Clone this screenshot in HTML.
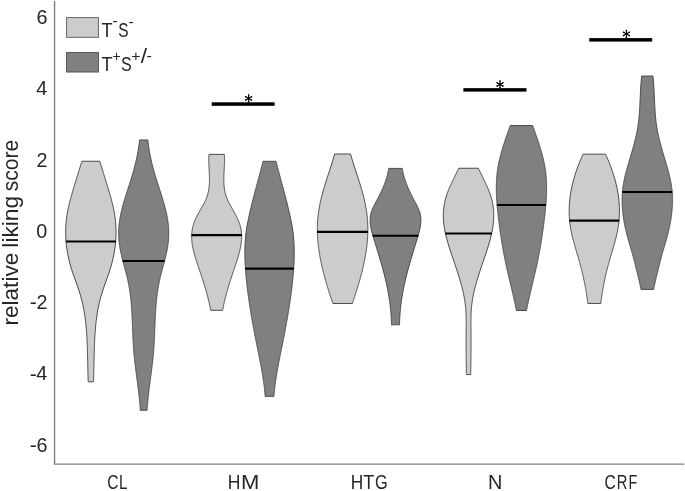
<!DOCTYPE html>
<html><head><meta charset="utf-8"><title>relative liking score</title><style>
html,body{margin:0;padding:0;background:#fff;width:685px;height:491px;overflow:hidden}
svg{display:block;will-change:transform}
text{font-family:"Liberation Sans",sans-serif;fill:#262626}
</style></head><body>
<svg width="685" height="491" viewBox="0 0 685 491">
<rect width="685" height="491" fill="#fff"/>
<line x1="54.55" y1="1" x2="54.55" y2="464.4" stroke="#7a7a7a" stroke-width="1.3"/>
<line x1="54.1" y1="464.15" x2="684.2" y2="464.15" stroke="#808080" stroke-width="1.2"/>
<text x="36.46" y="23.92" font-size="19.8">6</text>
<text x="36.17" y="95.16" font-size="19.8">4</text>
<text x="36.58" y="166.56" font-size="19.8">2</text>
<text x="36.36" y="237.72" font-size="19.8">0</text>
<text font-size="19.8"><tspan x="29.66" y="309.46" textLength="7.02" lengthAdjust="spacingAndGlyphs">-</tspan><tspan x="36.58" y="309.06">2</tspan></text>
<text font-size="19.8"><tspan x="29.66" y="380.61" textLength="7.02" lengthAdjust="spacingAndGlyphs">-</tspan><tspan x="36.17" y="380.21">4</tspan></text>
<text font-size="19.8"><tspan x="29.66" y="452.02" textLength="7.02" lengthAdjust="spacingAndGlyphs">-</tspan><tspan x="36.46" y="451.62">6</tspan></text>
<text y="488.85" font-size="19.8"><tspan x="107.26" textLength="11.23" lengthAdjust="spacingAndGlyphs">C</tspan><tspan x="119.01" textLength="8.39" lengthAdjust="spacingAndGlyphs">L</tspan></text>
<text y="488.85" font-size="19.8"><tspan x="227.76" textLength="12.67" lengthAdjust="spacingAndGlyphs">H</tspan><tspan x="240.99" textLength="18.37" lengthAdjust="spacingAndGlyphs">M</tspan></text>
<text y="488.85" font-size="19.8"><tspan x="350.78" textLength="12.48" lengthAdjust="spacingAndGlyphs">H</tspan><tspan x="363.19" textLength="11.02" lengthAdjust="spacingAndGlyphs">T</tspan><tspan x="375.03" textLength="12.69" lengthAdjust="spacingAndGlyphs">G</tspan></text>
<text y="488.85" font-size="19.8"><tspan x="488.07" textLength="14.35" lengthAdjust="spacingAndGlyphs">N</tspan></text>
<text y="488.85" font-size="19.8"><tspan x="604.61" textLength="11.29" lengthAdjust="spacingAndGlyphs">C</tspan><tspan x="616.74" textLength="10.64" lengthAdjust="spacingAndGlyphs">R</tspan><tspan x="628.43" textLength="8.75" lengthAdjust="spacingAndGlyphs">F</tspan></text>
<text transform="translate(18.05,330.0) rotate(-90)" font-size="21.8"><tspan x="4.40" textLength="72.91" lengthAdjust="spacingAndGlyphs">relative</tspan> <tspan x="82.37" textLength="51.64" lengthAdjust="spacingAndGlyphs">liking</tspan> <tspan x="138.71" textLength="51.52" lengthAdjust="spacingAndGlyphs">score</tspan></text>
<text y="36.65" font-size="20.0"><tspan x="101.44" y="36.65" textLength="11.02" lengthAdjust="spacingAndGlyphs">T</tspan><tspan x="112.51" y="26.45" font-size="14" textLength="5.18" lengthAdjust="spacingAndGlyphs">-</tspan><tspan x="118.30" y="36.65" textLength="10.31" lengthAdjust="spacingAndGlyphs">S</tspan><tspan x="128.49" y="26.60" font-size="14" textLength="5.32" lengthAdjust="spacingAndGlyphs">-</tspan></text>
<text y="70.85" font-size="20.0"><tspan x="101.44" y="70.85" textLength="11.02" lengthAdjust="spacingAndGlyphs">T</tspan><tspan x="112.52" y="60.75" font-size="14" textLength="8.17" lengthAdjust="spacingAndGlyphs">+</tspan><tspan x="121.07" y="70.85" textLength="10.66" lengthAdjust="spacingAndGlyphs">S</tspan><tspan x="131.23" y="60.90" font-size="14" textLength="9.26" lengthAdjust="spacingAndGlyphs">+</tspan><tspan x="140.80" y="63.10" font-size="19.8" textLength="6.30" lengthAdjust="spacingAndGlyphs">/</tspan><tspan x="146.59" y="60.80" font-size="14" textLength="5.32" lengthAdjust="spacingAndGlyphs">-</tspan></text>
<rect x="66.55" y="17.6" width="31.85" height="19.75" fill="#cccccc" stroke="#686868" stroke-width="1"/>
<rect x="66.55" y="52.55" width="31.85" height="19.45" fill="#808080" stroke="#555" stroke-width="1"/>

<path d="M99.80,161.25 L100.11,162.25 L100.42,163.25 L100.73,164.24 L101.04,165.24 L101.35,166.24 L101.66,167.24 L101.97,168.24 L102.28,169.23 L102.59,170.23 L102.89,171.23 L103.20,172.23 L103.51,173.23 L103.82,174.22 L104.13,175.22 L104.43,176.22 L104.74,177.22 L105.05,178.22 L105.35,179.21 L105.66,180.21 L105.96,181.21 L106.27,182.21 L106.57,183.21 L106.87,184.20 L107.17,185.20 L107.48,186.20 L107.78,187.20 L108.07,188.20 L108.37,189.19 L108.67,190.19 L108.97,191.19 L109.26,192.19 L109.55,193.18 L109.84,194.18 L110.13,195.18 L110.41,196.18 L110.69,197.18 L110.97,198.17 L111.24,199.17 L111.51,200.17 L111.77,201.17 L112.03,202.17 L112.28,203.16 L112.53,204.16 L112.77,205.16 L113.00,206.16 L113.23,207.16 L113.44,208.15 L113.65,209.15 L113.86,210.15 L114.05,211.15 L114.24,212.15 L114.41,213.14 L114.58,214.14 L114.74,215.14 L114.88,216.14 L115.02,217.14 L115.15,218.13 L115.27,219.13 L115.39,220.13 L115.49,221.13 L115.58,222.13 L115.67,223.12 L115.74,224.12 L115.81,225.12 L115.87,226.12 L115.92,227.12 L115.96,228.11 L115.99,229.11 L116.01,230.11 L116.03,231.11 L116.03,232.11 L116.03,233.10 L116.02,234.10 L115.99,235.10 L115.96,236.10 L115.93,237.10 L115.88,238.09 L115.82,239.09 L115.76,240.09 L115.68,241.09 L115.60,242.09 L115.51,243.08 L115.41,244.08 L115.30,245.08 L115.19,246.08 L115.06,247.07 L114.93,248.07 L114.79,249.07 L114.64,250.07 L114.48,251.07 L114.31,252.06 L114.14,253.06 L113.95,254.06 L113.76,255.06 L113.56,256.06 L113.35,257.05 L113.14,258.05 L112.91,259.05 L112.68,260.05 L112.44,261.05 L112.19,262.04 L111.93,263.04 L111.66,264.04 L111.39,265.04 L111.10,266.04 L110.81,267.03 L110.52,268.03 L110.21,269.03 L109.89,270.03 L109.57,271.03 L109.24,272.02 L108.90,273.02 L108.56,274.02 L108.21,275.02 L107.86,276.02 L107.51,277.01 L107.15,278.01 L106.79,279.01 L106.43,280.01 L106.07,281.01 L105.71,282.00 L105.35,283.00 L104.99,284.00 L104.63,285.00 L104.28,286.00 L103.93,286.99 L103.59,287.99 L103.26,288.99 L102.93,289.99 L102.60,290.99 L102.29,291.98 L101.97,292.98 L101.67,293.98 L101.37,294.98 L101.08,295.98 L100.80,296.97 L100.52,297.97 L100.26,298.97 L100.00,299.97 L99.75,300.96 L99.50,301.96 L99.27,302.96 L99.04,303.96 L98.82,304.96 L98.61,305.95 L98.40,306.95 L98.20,307.95 L98.01,308.95 L97.82,309.95 L97.65,310.94 L97.47,311.94 L97.31,312.94 L97.15,313.94 L96.99,314.94 L96.85,315.93 L96.70,316.93 L96.57,317.93 L96.44,318.93 L96.31,319.93 L96.19,320.92 L96.07,321.92 L95.96,322.92 L95.86,323.92 L95.75,324.92 L95.66,325.91 L95.56,326.91 L95.47,327.91 L95.39,328.91 L95.31,329.91 L95.23,330.90 L95.15,331.90 L95.08,332.90 L95.01,333.90 L94.95,334.90 L94.89,335.89 L94.83,336.89 L94.77,337.89 L94.72,338.89 L94.67,339.89 L94.62,340.88 L94.58,341.88 L94.53,342.88 L94.49,343.88 L94.46,344.88 L94.42,345.87 L94.38,346.87 L94.35,347.87 L94.32,348.87 L94.29,349.87 L94.26,350.86 L94.24,351.86 L94.21,352.86 L94.19,353.86 L94.16,354.85 L94.14,355.85 L94.12,356.85 L94.10,357.85 L94.07,358.85 L94.05,359.84 L94.03,360.84 L94.01,361.84 L93.99,362.84 L93.97,363.84 L93.95,364.83 L93.93,365.83 L93.91,366.83 L93.89,367.83 L93.87,368.83 L93.85,369.82 L93.82,370.82 L93.80,371.82 L93.77,372.82 L93.74,373.82 L93.72,374.81 L93.69,375.81 L93.65,376.81 L93.62,377.81 L93.59,378.81 L93.55,379.80 L93.51,380.80 L93.47,381.80 L88.23,381.80 L88.19,380.80 L88.15,379.80 L88.11,378.81 L88.08,377.81 L88.05,376.81 L88.01,375.81 L87.98,374.81 L87.96,373.82 L87.93,372.82 L87.90,371.82 L87.88,370.82 L87.85,369.82 L87.83,368.83 L87.81,367.83 L87.79,366.83 L87.77,365.83 L87.75,364.83 L87.73,363.84 L87.71,362.84 L87.69,361.84 L87.67,360.84 L87.65,359.84 L87.63,358.85 L87.60,357.85 L87.58,356.85 L87.56,355.85 L87.54,354.85 L87.51,353.86 L87.49,352.86 L87.46,351.86 L87.44,350.86 L87.41,349.87 L87.38,348.87 L87.35,347.87 L87.32,346.87 L87.28,345.87 L87.24,344.88 L87.21,343.88 L87.17,342.88 L87.12,341.88 L87.08,340.88 L87.03,339.89 L86.98,338.89 L86.93,337.89 L86.87,336.89 L86.81,335.89 L86.75,334.90 L86.69,333.90 L86.62,332.90 L86.55,331.90 L86.47,330.90 L86.39,329.91 L86.31,328.91 L86.23,327.91 L86.14,326.91 L86.04,325.91 L85.95,324.92 L85.84,323.92 L85.74,322.92 L85.63,321.92 L85.51,320.92 L85.39,319.93 L85.26,318.93 L85.13,317.93 L85.00,316.93 L84.85,315.93 L84.71,314.94 L84.55,313.94 L84.39,312.94 L84.23,311.94 L84.05,310.94 L83.88,309.95 L83.69,308.95 L83.50,307.95 L83.30,306.95 L83.09,305.95 L82.88,304.96 L82.66,303.96 L82.43,302.96 L82.20,301.96 L81.95,300.96 L81.70,299.97 L81.44,298.97 L81.18,297.97 L80.90,296.97 L80.62,295.98 L80.33,294.98 L80.03,293.98 L79.73,292.98 L79.41,291.98 L79.10,290.99 L78.77,289.99 L78.44,288.99 L78.11,287.99 L77.77,286.99 L77.42,286.00 L77.07,285.00 L76.71,284.00 L76.35,283.00 L75.99,282.00 L75.63,281.01 L75.27,280.01 L74.91,279.01 L74.55,278.01 L74.19,277.01 L73.84,276.02 L73.49,275.02 L73.14,274.02 L72.80,273.02 L72.46,272.02 L72.13,271.03 L71.81,270.03 L71.49,269.03 L71.18,268.03 L70.89,267.03 L70.60,266.04 L70.31,265.04 L70.04,264.04 L69.77,263.04 L69.51,262.04 L69.26,261.05 L69.02,260.05 L68.79,259.05 L68.56,258.05 L68.35,257.05 L68.14,256.06 L67.94,255.06 L67.75,254.06 L67.56,253.06 L67.39,252.06 L67.22,251.07 L67.06,250.07 L66.91,249.07 L66.77,248.07 L66.64,247.07 L66.51,246.08 L66.40,245.08 L66.29,244.08 L66.19,243.08 L66.10,242.09 L66.02,241.09 L65.94,240.09 L65.88,239.09 L65.82,238.09 L65.77,237.10 L65.74,236.10 L65.71,235.10 L65.68,234.10 L65.67,233.10 L65.67,232.11 L65.67,231.11 L65.69,230.11 L65.71,229.11 L65.74,228.11 L65.78,227.12 L65.83,226.12 L65.89,225.12 L65.96,224.12 L66.03,223.12 L66.12,222.13 L66.21,221.13 L66.31,220.13 L66.43,219.13 L66.55,218.13 L66.68,217.14 L66.82,216.14 L66.96,215.14 L67.12,214.14 L67.29,213.14 L67.46,212.15 L67.65,211.15 L67.84,210.15 L68.05,209.15 L68.26,208.15 L68.47,207.16 L68.70,206.16 L68.93,205.16 L69.17,204.16 L69.42,203.16 L69.67,202.17 L69.93,201.17 L70.19,200.17 L70.46,199.17 L70.73,198.17 L71.01,197.18 L71.29,196.18 L71.57,195.18 L71.86,194.18 L72.15,193.18 L72.44,192.19 L72.73,191.19 L73.03,190.19 L73.33,189.19 L73.63,188.20 L73.92,187.20 L74.22,186.20 L74.53,185.20 L74.83,184.20 L75.13,183.21 L75.43,182.21 L75.74,181.21 L76.04,180.21 L76.35,179.21 L76.65,178.22 L76.96,177.22 L77.27,176.22 L77.57,175.22 L77.88,174.22 L78.19,173.23 L78.50,172.23 L78.81,171.23 L79.11,170.23 L79.42,169.23 L79.73,168.24 L80.04,167.24 L80.35,166.24 L80.66,165.24 L80.97,164.24 L81.28,163.25 L81.59,162.25 L81.90,161.25Z" fill="#cccccc" stroke="#4a4a4a" stroke-width="1.0" stroke-linejoin="round"/>
<line x1="65.85" y1="241.5" x2="115.85" y2="241.5" stroke="#000" stroke-width="2.1"/>
<path d="M147.81,139.95 L147.91,140.95 L148.02,141.95 L148.13,142.94 L148.26,143.94 L148.39,144.94 L148.52,145.94 L148.67,146.93 L148.81,147.93 L148.97,148.93 L149.13,149.93 L149.30,150.92 L149.48,151.92 L149.66,152.92 L149.85,153.92 L150.04,154.91 L150.24,155.91 L150.44,156.91 L150.65,157.91 L150.87,158.90 L151.09,159.90 L151.32,160.90 L151.55,161.90 L151.78,162.89 L152.03,163.89 L152.27,164.89 L152.53,165.89 L152.78,166.89 L153.05,167.88 L153.31,168.88 L153.58,169.88 L153.86,170.88 L154.14,171.87 L154.43,172.87 L154.71,173.87 L155.01,174.87 L155.30,175.86 L155.61,176.86 L155.91,177.86 L156.22,178.86 L156.53,179.85 L156.84,180.85 L157.16,181.85 L157.48,182.85 L157.80,183.84 L158.12,184.84 L158.44,185.84 L158.77,186.84 L159.09,187.83 L159.41,188.83 L159.74,189.83 L160.06,190.83 L160.38,191.83 L160.70,192.82 L161.02,193.82 L161.34,194.82 L161.65,195.82 L161.96,196.81 L162.27,197.81 L162.58,198.81 L162.88,199.81 L163.18,200.80 L163.47,201.80 L163.76,202.80 L164.04,203.80 L164.32,204.79 L164.60,205.79 L164.86,206.79 L165.12,207.79 L165.38,208.78 L165.62,209.78 L165.86,210.78 L166.10,211.78 L166.32,212.77 L166.54,213.77 L166.74,214.77 L166.94,215.77 L167.13,216.77 L167.31,217.76 L167.49,218.76 L167.65,219.76 L167.80,220.76 L167.94,221.75 L168.07,222.75 L168.19,223.75 L168.30,224.75 L168.40,225.74 L168.49,226.74 L168.57,227.74 L168.63,228.74 L168.68,229.73 L168.72,230.73 L168.74,231.73 L168.76,232.73 L168.75,233.72 L168.74,234.72 L168.71,235.72 L168.68,236.72 L168.62,237.71 L168.56,238.71 L168.49,239.71 L168.40,240.71 L168.30,241.71 L168.19,242.70 L168.07,243.70 L167.94,244.70 L167.80,245.70 L167.65,246.69 L167.48,247.69 L167.31,248.69 L167.13,249.69 L166.94,250.68 L166.74,251.68 L166.53,252.68 L166.31,253.68 L166.09,254.67 L165.86,255.67 L165.62,256.67 L165.38,257.67 L165.13,258.66 L164.88,259.66 L164.62,260.66 L164.37,261.66 L164.10,262.65 L163.84,263.65 L163.57,264.65 L163.31,265.65 L163.04,266.65 L162.77,267.64 L162.50,268.64 L162.23,269.64 L161.97,270.64 L161.71,271.63 L161.44,272.63 L161.19,273.63 L160.93,274.63 L160.68,275.62 L160.44,276.62 L160.20,277.62 L159.96,278.62 L159.74,279.61 L159.51,280.61 L159.30,281.61 L159.09,282.61 L158.90,283.60 L158.70,284.60 L158.52,285.60 L158.34,286.60 L158.17,287.60 L158.00,288.59 L157.84,289.59 L157.69,290.59 L157.54,291.59 L157.40,292.58 L157.26,293.58 L157.13,294.58 L157.01,295.58 L156.89,296.57 L156.77,297.57 L156.66,298.57 L156.56,299.57 L156.46,300.56 L156.36,301.56 L156.27,302.56 L156.18,303.56 L156.09,304.55 L156.01,305.55 L155.94,306.55 L155.86,307.55 L155.79,308.54 L155.72,309.54 L155.66,310.54 L155.60,311.54 L155.54,312.54 L155.48,313.53 L155.43,314.53 L155.37,315.53 L155.32,316.53 L155.28,317.52 L155.23,318.52 L155.18,319.52 L155.14,320.52 L155.10,321.51 L155.06,322.51 L155.01,323.51 L154.97,324.51 L154.94,325.50 L154.90,326.50 L154.86,327.50 L154.82,328.50 L154.78,329.49 L154.74,330.49 L154.70,331.49 L154.66,332.49 L154.62,333.48 L154.58,334.48 L154.54,335.48 L154.50,336.48 L154.45,337.48 L154.41,338.47 L154.36,339.47 L154.31,340.47 L154.26,341.47 L154.21,342.46 L154.15,343.46 L154.09,344.46 L154.03,345.46 L153.97,346.45 L153.90,347.45 L153.84,348.45 L153.76,349.45 L153.69,350.44 L153.61,351.44 L153.53,352.44 L153.44,353.44 L153.35,354.43 L153.26,355.43 L153.16,356.43 L153.06,357.43 L152.96,358.42 L152.86,359.42 L152.75,360.42 L152.64,361.42 L152.53,362.42 L152.41,363.41 L152.29,364.41 L152.17,365.41 L152.05,366.41 L151.93,367.40 L151.81,368.40 L151.68,369.40 L151.55,370.40 L151.43,371.39 L151.30,372.39 L151.17,373.39 L151.04,374.39 L150.91,375.38 L150.78,376.38 L150.64,377.38 L150.51,378.38 L150.38,379.37 L150.25,380.37 L150.12,381.37 L149.99,382.37 L149.86,383.36 L149.73,384.36 L149.60,385.36 L149.47,386.36 L149.34,387.36 L149.22,388.35 L149.10,389.35 L148.97,390.35 L148.85,391.35 L148.73,392.34 L148.62,393.34 L148.50,394.34 L148.39,395.34 L148.28,396.33 L148.17,397.33 L148.07,398.33 L147.97,399.33 L147.87,400.32 L147.78,401.32 L147.68,402.32 L147.60,403.32 L147.51,404.31 L147.43,405.31 L147.35,406.31 L147.28,407.31 L147.21,408.30 L147.14,409.30 L147.08,410.30 L140.32,410.30 L140.26,409.30 L140.19,408.30 L140.12,407.31 L140.05,406.31 L139.97,405.31 L139.89,404.31 L139.80,403.32 L139.72,402.32 L139.62,401.32 L139.53,400.32 L139.43,399.33 L139.33,398.33 L139.23,397.33 L139.12,396.33 L139.01,395.34 L138.90,394.34 L138.78,393.34 L138.67,392.34 L138.55,391.35 L138.43,390.35 L138.30,389.35 L138.18,388.35 L138.06,387.36 L137.93,386.36 L137.80,385.36 L137.67,384.36 L137.54,383.36 L137.41,382.37 L137.28,381.37 L137.15,380.37 L137.02,379.37 L136.89,378.38 L136.76,377.38 L136.62,376.38 L136.49,375.38 L136.36,374.39 L136.23,373.39 L136.10,372.39 L135.97,371.39 L135.85,370.40 L135.72,369.40 L135.59,368.40 L135.47,367.40 L135.35,366.41 L135.23,365.41 L135.11,364.41 L134.99,363.41 L134.87,362.42 L134.76,361.42 L134.65,360.42 L134.54,359.42 L134.44,358.42 L134.34,357.43 L134.24,356.43 L134.14,355.43 L134.05,354.43 L133.96,353.44 L133.87,352.44 L133.79,351.44 L133.71,350.44 L133.64,349.45 L133.56,348.45 L133.50,347.45 L133.43,346.45 L133.37,345.46 L133.31,344.46 L133.25,343.46 L133.19,342.46 L133.14,341.47 L133.09,340.47 L133.04,339.47 L132.99,338.47 L132.95,337.48 L132.90,336.48 L132.86,335.48 L132.82,334.48 L132.78,333.48 L132.74,332.49 L132.70,331.49 L132.66,330.49 L132.62,329.49 L132.58,328.50 L132.54,327.50 L132.50,326.50 L132.46,325.50 L132.43,324.51 L132.39,323.51 L132.34,322.51 L132.30,321.51 L132.26,320.52 L132.22,319.52 L132.17,318.52 L132.12,317.52 L132.08,316.53 L132.03,315.53 L131.97,314.53 L131.92,313.53 L131.86,312.54 L131.80,311.54 L131.74,310.54 L131.68,309.54 L131.61,308.54 L131.54,307.55 L131.46,306.55 L131.39,305.55 L131.31,304.55 L131.22,303.56 L131.13,302.56 L131.04,301.56 L130.94,300.56 L130.84,299.57 L130.74,298.57 L130.63,297.57 L130.51,296.57 L130.39,295.58 L130.27,294.58 L130.14,293.58 L130.00,292.58 L129.86,291.59 L129.71,290.59 L129.56,289.59 L129.40,288.59 L129.23,287.60 L129.06,286.60 L128.88,285.60 L128.70,284.60 L128.50,283.60 L128.31,282.61 L128.10,281.61 L127.89,280.61 L127.66,279.61 L127.44,278.62 L127.20,277.62 L126.96,276.62 L126.72,275.62 L126.47,274.63 L126.21,273.63 L125.96,272.63 L125.69,271.63 L125.43,270.64 L125.17,269.64 L124.90,268.64 L124.63,267.64 L124.36,266.65 L124.09,265.65 L123.83,264.65 L123.56,263.65 L123.30,262.65 L123.03,261.66 L122.78,260.66 L122.52,259.66 L122.27,258.66 L122.02,257.67 L121.78,256.67 L121.54,255.67 L121.31,254.67 L121.09,253.68 L120.87,252.68 L120.66,251.68 L120.46,250.68 L120.27,249.69 L120.09,248.69 L119.92,247.69 L119.75,246.69 L119.60,245.70 L119.46,244.70 L119.33,243.70 L119.21,242.70 L119.10,241.71 L119.00,240.71 L118.91,239.71 L118.84,238.71 L118.78,237.71 L118.72,236.72 L118.69,235.72 L118.66,234.72 L118.65,233.72 L118.64,232.73 L118.66,231.73 L118.68,230.73 L118.72,229.73 L118.77,228.74 L118.83,227.74 L118.91,226.74 L119.00,225.74 L119.10,224.75 L119.21,223.75 L119.33,222.75 L119.46,221.75 L119.60,220.76 L119.75,219.76 L119.91,218.76 L120.09,217.76 L120.27,216.77 L120.46,215.77 L120.66,214.77 L120.86,213.77 L121.08,212.77 L121.30,211.78 L121.54,210.78 L121.78,209.78 L122.02,208.78 L122.28,207.79 L122.54,206.79 L122.80,205.79 L123.08,204.79 L123.36,203.80 L123.64,202.80 L123.93,201.80 L124.22,200.80 L124.52,199.81 L124.82,198.81 L125.13,197.81 L125.44,196.81 L125.75,195.82 L126.06,194.82 L126.38,193.82 L126.70,192.82 L127.02,191.83 L127.34,190.83 L127.66,189.83 L127.99,188.83 L128.31,187.83 L128.63,186.84 L128.96,185.84 L129.28,184.84 L129.60,183.84 L129.92,182.85 L130.24,181.85 L130.56,180.85 L130.87,179.85 L131.18,178.86 L131.49,177.86 L131.79,176.86 L132.10,175.86 L132.39,174.87 L132.69,173.87 L132.97,172.87 L133.26,171.87 L133.54,170.88 L133.82,169.88 L134.09,168.88 L134.35,167.88 L134.62,166.89 L134.87,165.89 L135.13,164.89 L135.37,163.89 L135.62,162.89 L135.85,161.90 L136.08,160.90 L136.31,159.90 L136.53,158.90 L136.75,157.91 L136.96,156.91 L137.16,155.91 L137.36,154.91 L137.55,153.92 L137.74,152.92 L137.92,151.92 L138.10,150.92 L138.27,149.93 L138.43,148.93 L138.59,147.93 L138.73,146.93 L138.88,145.94 L139.01,144.94 L139.14,143.94 L139.27,142.94 L139.38,141.95 L139.49,140.95 L139.59,139.95Z" fill="#808080" stroke="#4a4a4a" stroke-width="1.0" stroke-linejoin="round"/>
<line x1="122.66" y1="261.0" x2="164.74" y2="261.0" stroke="#000" stroke-width="2.1"/>
<path d="M224.29,154.35 L224.36,155.35 L224.42,156.35 L224.46,157.35 L224.49,158.35 L224.50,159.35 L224.50,160.35 L224.49,161.35 L224.48,162.35 L224.45,163.35 L224.42,164.35 L224.38,165.35 L224.34,166.35 L224.29,167.35 L224.24,168.35 L224.19,169.35 L224.13,170.34 L224.08,171.34 L224.03,172.34 L223.98,173.34 L223.94,174.34 L223.90,175.34 L223.87,176.34 L223.84,177.34 L223.83,178.34 L223.82,179.34 L223.82,180.34 L223.84,181.34 L223.87,182.34 L223.91,183.34 L223.96,184.34 L224.04,185.34 L224.13,186.34 L224.24,187.34 L224.36,188.34 L224.51,189.34 L224.68,190.34 L224.87,191.34 L225.09,192.34 L225.33,193.34 L225.60,194.34 L225.89,195.34 L226.21,196.34 L226.57,197.34 L226.95,198.34 L227.36,199.34 L227.81,200.34 L228.27,201.33 L228.77,202.33 L229.28,203.33 L229.81,204.33 L230.35,205.33 L230.91,206.33 L231.47,207.33 L232.04,208.33 L232.61,209.33 L233.18,210.33 L233.74,211.33 L234.30,212.33 L234.85,213.33 L235.39,214.33 L235.91,215.33 L236.42,216.33 L236.92,217.33 L237.39,218.33 L237.85,219.33 L238.29,220.33 L238.70,221.33 L239.09,222.33 L239.45,223.33 L239.78,224.33 L240.08,225.33 L240.35,226.33 L240.60,227.33 L240.81,228.33 L241.00,229.33 L241.16,230.33 L241.30,231.33 L241.41,232.32 L241.50,233.32 L241.56,234.32 L241.60,235.32 L241.62,236.32 L241.62,237.32 L241.59,238.32 L241.55,239.32 L241.48,240.32 L241.40,241.32 L241.29,242.32 L241.17,243.32 L241.04,244.32 L240.88,245.32 L240.71,246.32 L240.53,247.32 L240.33,248.32 L240.12,249.32 L239.89,250.32 L239.66,251.32 L239.41,252.32 L239.15,253.32 L238.88,254.32 L238.60,255.32 L238.31,256.32 L238.02,257.32 L237.71,258.32 L237.40,259.32 L237.09,260.32 L236.76,261.32 L236.44,262.32 L236.11,263.32 L235.77,264.31 L235.44,265.31 L235.10,266.31 L234.76,267.31 L234.42,268.31 L234.08,269.31 L233.74,270.31 L233.40,271.31 L233.06,272.31 L232.73,273.31 L232.39,274.31 L232.06,275.31 L231.73,276.31 L231.40,277.31 L231.07,278.31 L230.75,279.31 L230.42,280.31 L230.10,281.31 L229.79,282.31 L229.47,283.31 L229.16,284.31 L228.85,285.31 L228.55,286.31 L228.25,287.31 L227.95,288.31 L227.65,289.31 L227.37,290.31 L227.08,291.31 L226.80,292.31 L226.52,293.31 L226.25,294.31 L225.98,295.30 L225.72,296.30 L225.46,297.30 L225.21,298.30 L224.96,299.30 L224.72,300.30 L224.48,301.30 L224.25,302.30 L224.03,303.30 L223.81,304.30 L223.59,305.30 L223.39,306.30 L223.19,307.30 L223.00,308.30 L222.81,309.30 L222.63,310.30 L210.67,310.30 L210.49,309.30 L210.30,308.30 L210.11,307.30 L209.91,306.30 L209.71,305.30 L209.49,304.30 L209.27,303.30 L209.05,302.30 L208.82,301.30 L208.58,300.30 L208.34,299.30 L208.09,298.30 L207.84,297.30 L207.58,296.30 L207.32,295.30 L207.05,294.31 L206.78,293.31 L206.50,292.31 L206.22,291.31 L205.93,290.31 L205.65,289.31 L205.35,288.31 L205.05,287.31 L204.75,286.31 L204.45,285.31 L204.14,284.31 L203.83,283.31 L203.51,282.31 L203.20,281.31 L202.88,280.31 L202.55,279.31 L202.23,278.31 L201.90,277.31 L201.57,276.31 L201.24,275.31 L200.91,274.31 L200.57,273.31 L200.24,272.31 L199.90,271.31 L199.56,270.31 L199.22,269.31 L198.88,268.31 L198.54,267.31 L198.20,266.31 L197.86,265.31 L197.53,264.31 L197.19,263.32 L196.86,262.32 L196.54,261.32 L196.21,260.32 L195.90,259.32 L195.59,258.32 L195.28,257.32 L194.99,256.32 L194.70,255.32 L194.42,254.32 L194.15,253.32 L193.89,252.32 L193.64,251.32 L193.41,250.32 L193.18,249.32 L192.97,248.32 L192.77,247.32 L192.59,246.32 L192.42,245.32 L192.26,244.32 L192.13,243.32 L192.01,242.32 L191.90,241.32 L191.82,240.32 L191.75,239.32 L191.71,238.32 L191.68,237.32 L191.68,236.32 L191.70,235.32 L191.74,234.32 L191.80,233.32 L191.89,232.32 L192.00,231.33 L192.14,230.33 L192.30,229.33 L192.49,228.33 L192.70,227.33 L192.95,226.33 L193.22,225.33 L193.52,224.33 L193.85,223.33 L194.21,222.33 L194.60,221.33 L195.01,220.33 L195.45,219.33 L195.91,218.33 L196.38,217.33 L196.88,216.33 L197.39,215.33 L197.91,214.33 L198.45,213.33 L199.00,212.33 L199.56,211.33 L200.12,210.33 L200.69,209.33 L201.26,208.33 L201.83,207.33 L202.39,206.33 L202.95,205.33 L203.49,204.33 L204.02,203.33 L204.53,202.33 L205.03,201.33 L205.49,200.34 L205.94,199.34 L206.35,198.34 L206.73,197.34 L207.09,196.34 L207.41,195.34 L207.70,194.34 L207.97,193.34 L208.21,192.34 L208.43,191.34 L208.62,190.34 L208.79,189.34 L208.94,188.34 L209.06,187.34 L209.17,186.34 L209.26,185.34 L209.34,184.34 L209.39,183.34 L209.43,182.34 L209.46,181.34 L209.48,180.34 L209.48,179.34 L209.47,178.34 L209.46,177.34 L209.43,176.34 L209.40,175.34 L209.36,174.34 L209.32,173.34 L209.27,172.34 L209.22,171.34 L209.17,170.34 L209.11,169.35 L209.06,168.35 L209.01,167.35 L208.96,166.35 L208.92,165.35 L208.88,164.35 L208.85,163.35 L208.82,162.35 L208.81,161.35 L208.80,160.35 L208.80,159.35 L208.81,158.35 L208.84,157.35 L208.88,156.35 L208.94,155.35 L209.01,154.35Z" fill="#cccccc" stroke="#4a4a4a" stroke-width="1.0" stroke-linejoin="round"/>
<line x1="191.50" y1="235.1" x2="241.80" y2="235.1" stroke="#000" stroke-width="2.1"/>
<path d="M276.02,161.30 L276.27,162.30 L276.53,163.29 L276.78,164.29 L277.04,165.28 L277.30,166.28 L277.56,167.27 L277.82,168.27 L278.08,169.27 L278.35,170.26 L278.61,171.26 L278.88,172.25 L279.14,173.25 L279.41,174.24 L279.67,175.24 L279.94,176.24 L280.21,177.23 L280.48,178.23 L280.74,179.22 L281.01,180.22 L281.28,181.22 L281.55,182.21 L281.82,183.21 L282.09,184.20 L282.35,185.20 L282.62,186.19 L282.89,187.19 L283.15,188.19 L283.42,189.18 L283.68,190.18 L283.95,191.17 L284.21,192.17 L284.47,193.16 L284.73,194.16 L285.00,195.16 L285.25,196.15 L285.51,197.15 L285.77,198.14 L286.02,199.14 L286.28,200.13 L286.53,201.13 L286.78,202.13 L287.03,203.12 L287.27,204.12 L287.52,205.11 L287.76,206.11 L288.00,207.11 L288.24,208.10 L288.48,209.10 L288.71,210.09 L288.94,211.09 L289.17,212.08 L289.40,213.08 L289.62,214.08 L289.84,215.07 L290.06,216.07 L290.27,217.06 L290.48,218.06 L290.69,219.05 L290.90,220.05 L291.10,221.05 L291.30,222.04 L291.49,223.04 L291.68,224.03 L291.86,225.03 L292.04,226.02 L292.21,227.02 L292.37,228.02 L292.53,229.01 L292.68,230.01 L292.82,231.00 L292.96,232.00 L293.08,232.99 L293.20,233.99 L293.31,234.99 L293.42,235.98 L293.52,236.98 L293.61,237.97 L293.69,238.97 L293.77,239.97 L293.84,240.96 L293.90,241.96 L293.96,242.95 L294.01,243.95 L294.06,244.94 L294.10,245.94 L294.14,246.94 L294.16,247.93 L294.19,248.93 L294.21,249.92 L294.22,250.92 L294.23,251.91 L294.23,252.91 L294.23,253.91 L294.22,254.90 L294.21,255.90 L294.19,256.89 L294.17,257.89 L294.14,258.88 L294.11,259.88 L294.08,260.88 L294.04,261.87 L293.99,262.87 L293.94,263.86 L293.89,264.86 L293.84,265.86 L293.78,266.85 L293.72,267.85 L293.65,268.84 L293.58,269.84 L293.51,270.83 L293.43,271.83 L293.35,272.83 L293.27,273.82 L293.18,274.82 L293.09,275.81 L293.00,276.81 L292.91,277.80 L292.81,278.80 L292.71,279.80 L292.61,280.79 L292.51,281.79 L292.40,282.78 L292.29,283.78 L292.18,284.77 L292.07,285.77 L291.95,286.77 L291.84,287.76 L291.72,288.76 L291.59,289.75 L291.47,290.75 L291.34,291.74 L291.22,292.74 L291.09,293.74 L290.96,294.73 L290.82,295.73 L290.69,296.72 L290.55,297.72 L290.41,298.72 L290.27,299.71 L290.12,300.71 L289.98,301.70 L289.83,302.70 L289.68,303.69 L289.53,304.69 L289.38,305.69 L289.22,306.68 L289.07,307.68 L288.91,308.67 L288.75,309.67 L288.59,310.66 L288.43,311.66 L288.27,312.66 L288.10,313.65 L287.93,314.65 L287.77,315.64 L287.60,316.64 L287.43,317.63 L287.25,318.63 L287.08,319.63 L286.90,320.62 L286.73,321.62 L286.55,322.61 L286.37,323.61 L286.19,324.61 L286.01,325.60 L285.83,326.60 L285.64,327.59 L285.46,328.59 L285.27,329.58 L285.08,330.58 L284.90,331.58 L284.71,332.57 L284.52,333.57 L284.33,334.56 L284.13,335.56 L283.94,336.55 L283.75,337.55 L283.55,338.55 L283.36,339.54 L283.16,340.54 L282.96,341.53 L282.76,342.53 L282.57,343.52 L282.37,344.52 L282.17,345.52 L281.97,346.51 L281.76,347.51 L281.56,348.50 L281.36,349.50 L281.16,350.49 L280.96,351.49 L280.76,352.49 L280.56,353.48 L280.36,354.48 L280.16,355.47 L279.96,356.47 L279.76,357.47 L279.56,358.46 L279.37,359.46 L279.17,360.45 L278.98,361.45 L278.78,362.44 L278.59,363.44 L278.40,364.44 L278.22,365.43 L278.03,366.43 L277.85,367.42 L277.67,368.42 L277.49,369.41 L277.31,370.41 L277.14,371.41 L276.96,372.40 L276.79,373.40 L276.63,374.39 L276.47,375.39 L276.31,376.38 L276.15,377.38 L275.99,378.38 L275.84,379.37 L275.70,380.37 L275.55,381.36 L275.42,382.36 L275.28,383.36 L275.15,384.35 L275.02,385.35 L274.90,386.34 L274.78,387.34 L274.67,388.33 L274.56,389.33 L274.45,390.33 L274.35,391.32 L274.26,392.32 L274.17,393.31 L274.09,394.31 L274.01,395.30 L273.93,396.30 L265.17,396.30 L265.09,395.30 L265.01,394.31 L264.93,393.31 L264.84,392.32 L264.75,391.32 L264.65,390.33 L264.54,389.33 L264.43,388.33 L264.32,387.34 L264.20,386.34 L264.08,385.35 L263.95,384.35 L263.82,383.36 L263.68,382.36 L263.55,381.36 L263.40,380.37 L263.26,379.37 L263.11,378.38 L262.95,377.38 L262.79,376.38 L262.63,375.39 L262.47,374.39 L262.31,373.40 L262.14,372.40 L261.96,371.41 L261.79,370.41 L261.61,369.41 L261.43,368.42 L261.25,367.42 L261.07,366.43 L260.88,365.43 L260.70,364.44 L260.51,363.44 L260.32,362.44 L260.12,361.45 L259.93,360.45 L259.73,359.46 L259.54,358.46 L259.34,357.47 L259.14,356.47 L258.94,355.47 L258.74,354.48 L258.54,353.48 L258.34,352.49 L258.14,351.49 L257.94,350.49 L257.74,349.50 L257.54,348.50 L257.34,347.51 L257.13,346.51 L256.93,345.52 L256.73,344.52 L256.53,343.52 L256.34,342.53 L256.14,341.53 L255.94,340.54 L255.74,339.54 L255.55,338.55 L255.35,337.55 L255.16,336.55 L254.97,335.56 L254.77,334.56 L254.58,333.57 L254.39,332.57 L254.20,331.58 L254.02,330.58 L253.83,329.58 L253.64,328.59 L253.46,327.59 L253.27,326.60 L253.09,325.60 L252.91,324.61 L252.73,323.61 L252.55,322.61 L252.37,321.62 L252.20,320.62 L252.02,319.63 L251.85,318.63 L251.67,317.63 L251.50,316.64 L251.33,315.64 L251.17,314.65 L251.00,313.65 L250.83,312.66 L250.67,311.66 L250.51,310.66 L250.35,309.67 L250.19,308.67 L250.03,307.68 L249.88,306.68 L249.72,305.69 L249.57,304.69 L249.42,303.69 L249.27,302.70 L249.12,301.70 L248.98,300.71 L248.83,299.71 L248.69,298.72 L248.55,297.72 L248.41,296.72 L248.28,295.73 L248.14,294.73 L248.01,293.74 L247.88,292.74 L247.76,291.74 L247.63,290.75 L247.51,289.75 L247.38,288.76 L247.26,287.76 L247.15,286.77 L247.03,285.77 L246.92,284.77 L246.81,283.78 L246.70,282.78 L246.59,281.79 L246.49,280.79 L246.39,279.80 L246.29,278.80 L246.19,277.80 L246.10,276.81 L246.01,275.81 L245.92,274.82 L245.83,273.82 L245.75,272.83 L245.67,271.83 L245.59,270.83 L245.52,269.84 L245.45,268.84 L245.38,267.85 L245.32,266.85 L245.26,265.86 L245.21,264.86 L245.16,263.86 L245.11,262.87 L245.06,261.87 L245.02,260.88 L244.99,259.88 L244.96,258.88 L244.93,257.89 L244.91,256.89 L244.89,255.90 L244.88,254.90 L244.87,253.91 L244.87,252.91 L244.87,251.91 L244.88,250.92 L244.89,249.92 L244.91,248.93 L244.94,247.93 L244.96,246.94 L245.00,245.94 L245.04,244.94 L245.09,243.95 L245.14,242.95 L245.20,241.96 L245.26,240.96 L245.33,239.97 L245.41,238.97 L245.49,237.97 L245.58,236.98 L245.68,235.98 L245.79,234.99 L245.90,233.99 L246.02,232.99 L246.14,232.00 L246.28,231.00 L246.42,230.01 L246.57,229.01 L246.73,228.02 L246.89,227.02 L247.06,226.02 L247.24,225.03 L247.42,224.03 L247.61,223.04 L247.80,222.04 L248.00,221.05 L248.20,220.05 L248.41,219.05 L248.62,218.06 L248.83,217.06 L249.04,216.07 L249.26,215.07 L249.48,214.08 L249.70,213.08 L249.93,212.08 L250.16,211.09 L250.39,210.09 L250.62,209.10 L250.86,208.10 L251.10,207.11 L251.34,206.11 L251.58,205.11 L251.83,204.12 L252.07,203.12 L252.32,202.13 L252.57,201.13 L252.82,200.13 L253.08,199.14 L253.33,198.14 L253.59,197.15 L253.85,196.15 L254.10,195.16 L254.37,194.16 L254.63,193.16 L254.89,192.17 L255.15,191.17 L255.42,190.18 L255.68,189.18 L255.95,188.19 L256.21,187.19 L256.48,186.19 L256.75,185.20 L257.01,184.20 L257.28,183.21 L257.55,182.21 L257.82,181.22 L258.09,180.22 L258.36,179.22 L258.62,178.23 L258.89,177.23 L259.16,176.24 L259.43,175.24 L259.69,174.24 L259.96,173.25 L260.22,172.25 L260.49,171.26 L260.75,170.26 L261.02,169.27 L261.28,168.27 L261.54,167.27 L261.80,166.28 L262.06,165.28 L262.32,164.29 L262.57,163.29 L262.83,162.30 L263.08,161.30Z" fill="#808080" stroke="#4a4a4a" stroke-width="1.0" stroke-linejoin="round"/>
<line x1="245.23" y1="268.6" x2="293.87" y2="268.6" stroke="#000" stroke-width="2.1"/>
<path d="M350.53,154.00 L350.81,155.00 L351.10,155.99 L351.39,156.99 L351.69,157.99 L351.99,158.98 L352.29,159.98 L352.59,160.98 L352.90,161.97 L353.22,162.97 L353.53,163.97 L353.85,164.96 L354.17,165.96 L354.49,166.96 L354.81,167.95 L355.13,168.95 L355.46,169.95 L355.79,170.94 L356.11,171.94 L356.44,172.94 L356.76,173.93 L357.09,174.93 L357.41,175.93 L357.74,176.92 L358.06,177.92 L358.38,178.92 L358.70,179.91 L359.02,180.91 L359.34,181.91 L359.65,182.90 L359.96,183.90 L360.27,184.90 L360.57,185.89 L360.87,186.89 L361.16,187.89 L361.46,188.88 L361.74,189.88 L362.03,190.88 L362.30,191.87 L362.58,192.87 L362.84,193.87 L363.11,194.86 L363.36,195.86 L363.61,196.86 L363.86,197.85 L364.10,198.85 L364.33,199.85 L364.56,200.84 L364.78,201.84 L364.99,202.84 L365.20,203.83 L365.40,204.83 L365.59,205.83 L365.78,206.82 L365.95,207.82 L366.13,208.82 L366.29,209.81 L366.44,210.81 L366.59,211.81 L366.73,212.80 L366.87,213.80 L366.99,214.80 L367.11,215.79 L367.21,216.79 L367.31,217.79 L367.40,218.78 L367.48,219.78 L367.56,220.78 L367.62,221.77 L367.68,222.77 L367.73,223.77 L367.77,224.76 L367.80,225.76 L367.83,226.76 L367.84,227.75 L367.85,228.75 L367.85,229.75 L367.84,230.74 L367.83,231.74 L367.81,232.74 L367.78,233.73 L367.74,234.73 L367.69,235.73 L367.64,236.72 L367.58,237.72 L367.51,238.72 L367.44,239.71 L367.36,240.71 L367.27,241.71 L367.18,242.70 L367.08,243.70 L366.97,244.70 L366.86,245.69 L366.74,246.69 L366.61,247.69 L366.48,248.68 L366.34,249.68 L366.20,250.68 L366.05,251.67 L365.89,252.67 L365.73,253.67 L365.57,254.66 L365.40,255.66 L365.22,256.66 L365.04,257.65 L364.85,258.65 L364.66,259.65 L364.47,260.64 L364.27,261.64 L364.06,262.64 L363.85,263.63 L363.63,264.63 L363.41,265.63 L363.19,266.62 L362.96,267.62 L362.73,268.62 L362.49,269.61 L362.25,270.61 L362.00,271.61 L361.75,272.60 L361.49,273.60 L361.24,274.60 L360.97,275.59 L360.71,276.59 L360.44,277.59 L360.16,278.58 L359.88,279.58 L359.60,280.58 L359.32,281.57 L359.03,282.57 L358.74,283.57 L358.44,284.56 L358.15,285.56 L357.84,286.56 L357.54,287.55 L357.23,288.55 L356.92,289.55 L356.61,290.54 L356.29,291.54 L355.97,292.54 L355.65,293.53 L355.33,294.53 L355.00,295.53 L354.68,296.52 L354.34,297.52 L354.01,298.52 L353.68,299.51 L353.34,300.51 L353.00,301.51 L352.66,302.50 L352.32,303.50 L332.88,303.50 L332.54,302.50 L332.20,301.51 L331.86,300.51 L331.52,299.51 L331.19,298.52 L330.86,297.52 L330.52,296.52 L330.20,295.53 L329.87,294.53 L329.55,293.53 L329.23,292.54 L328.91,291.54 L328.59,290.54 L328.28,289.55 L327.97,288.55 L327.66,287.55 L327.36,286.56 L327.05,285.56 L326.76,284.56 L326.46,283.57 L326.17,282.57 L325.88,281.57 L325.60,280.58 L325.32,279.58 L325.04,278.58 L324.76,277.59 L324.49,276.59 L324.23,275.59 L323.96,274.60 L323.71,273.60 L323.45,272.60 L323.20,271.61 L322.95,270.61 L322.71,269.61 L322.47,268.62 L322.24,267.62 L322.01,266.62 L321.79,265.63 L321.57,264.63 L321.35,263.63 L321.14,262.64 L320.93,261.64 L320.73,260.64 L320.54,259.65 L320.35,258.65 L320.16,257.65 L319.98,256.66 L319.80,255.66 L319.63,254.66 L319.47,253.67 L319.31,252.67 L319.15,251.67 L319.00,250.68 L318.86,249.68 L318.72,248.68 L318.59,247.69 L318.46,246.69 L318.34,245.69 L318.23,244.70 L318.12,243.70 L318.02,242.70 L317.93,241.71 L317.84,240.71 L317.76,239.71 L317.69,238.72 L317.62,237.72 L317.56,236.72 L317.51,235.73 L317.46,234.73 L317.42,233.73 L317.39,232.74 L317.37,231.74 L317.36,230.74 L317.35,229.75 L317.35,228.75 L317.36,227.75 L317.37,226.76 L317.40,225.76 L317.43,224.76 L317.47,223.77 L317.52,222.77 L317.58,221.77 L317.64,220.78 L317.72,219.78 L317.80,218.78 L317.89,217.79 L317.99,216.79 L318.09,215.79 L318.21,214.80 L318.33,213.80 L318.47,212.80 L318.61,211.81 L318.76,210.81 L318.91,209.81 L319.07,208.82 L319.25,207.82 L319.42,206.82 L319.61,205.83 L319.80,204.83 L320.00,203.83 L320.21,202.84 L320.42,201.84 L320.64,200.84 L320.87,199.85 L321.10,198.85 L321.34,197.85 L321.59,196.86 L321.84,195.86 L322.09,194.86 L322.36,193.87 L322.62,192.87 L322.90,191.87 L323.17,190.88 L323.46,189.88 L323.74,188.88 L324.04,187.89 L324.33,186.89 L324.63,185.89 L324.93,184.90 L325.24,183.90 L325.55,182.90 L325.86,181.91 L326.18,180.91 L326.50,179.91 L326.82,178.92 L327.14,177.92 L327.46,176.92 L327.79,175.93 L328.11,174.93 L328.44,173.93 L328.76,172.94 L329.09,171.94 L329.41,170.94 L329.74,169.95 L330.07,168.95 L330.39,167.95 L330.71,166.96 L331.03,165.96 L331.35,164.96 L331.67,163.97 L331.98,162.97 L332.30,161.97 L332.61,160.98 L332.91,159.98 L333.21,158.98 L333.51,157.99 L333.81,156.99 L334.10,155.99 L334.39,155.00 L334.67,154.00Z" fill="#cccccc" stroke="#4a4a4a" stroke-width="1.0" stroke-linejoin="round"/>
<line x1="317.17" y1="231.85" x2="368.03" y2="231.85" stroke="#000" stroke-width="2.1"/>
<path d="M402.28,168.40 L402.44,169.40 L402.61,170.39 L402.80,171.39 L403.01,172.38 L403.23,173.38 L403.47,174.38 L403.73,175.37 L404.00,176.37 L404.28,177.37 L404.58,178.36 L404.89,179.36 L405.22,180.35 L405.56,181.35 L405.91,182.35 L406.28,183.34 L406.66,184.34 L407.05,185.34 L407.45,186.33 L407.86,187.33 L408.29,188.32 L408.73,189.32 L409.17,190.32 L409.63,191.31 L410.10,192.31 L410.58,193.30 L411.07,194.30 L411.57,195.30 L412.07,196.29 L412.59,197.29 L413.11,198.29 L413.64,199.28 L414.18,200.28 L414.73,201.27 L415.27,202.27 L415.80,203.27 L416.33,204.26 L416.85,205.26 L417.35,206.25 L417.82,207.25 L418.28,208.25 L418.70,209.24 L419.09,210.24 L419.44,211.24 L419.76,212.23 L420.04,213.23 L420.27,214.22 L420.47,215.22 L420.63,216.22 L420.75,217.21 L420.83,218.21 L420.88,219.21 L420.90,220.20 L420.88,221.20 L420.84,222.19 L420.76,223.19 L420.67,224.19 L420.54,225.18 L420.40,226.18 L420.23,227.17 L420.04,228.17 L419.83,229.17 L419.61,230.16 L419.37,231.16 L419.12,232.16 L418.85,233.15 L418.58,234.15 L418.30,235.14 L418.01,236.14 L417.71,237.14 L417.41,238.13 L417.11,239.13 L416.80,240.12 L416.50,241.12 L416.19,242.12 L415.88,243.11 L415.58,244.11 L415.27,245.11 L414.97,246.10 L414.66,247.10 L414.35,248.09 L414.05,249.09 L413.74,250.09 L413.44,251.08 L413.13,252.08 L412.83,253.08 L412.53,254.07 L412.22,255.07 L411.92,256.06 L411.62,257.06 L411.33,258.06 L411.03,259.05 L410.74,260.05 L410.44,261.04 L410.15,262.04 L409.86,263.04 L409.58,264.03 L409.29,265.03 L409.01,266.03 L408.73,267.02 L408.45,268.02 L408.18,269.01 L407.91,270.01 L407.64,271.01 L407.37,272.00 L407.11,273.00 L406.85,273.99 L406.60,274.99 L406.35,275.99 L406.10,276.98 L405.85,277.98 L405.61,278.98 L405.38,279.97 L405.15,280.97 L404.92,281.96 L404.70,282.96 L404.48,283.96 L404.26,284.95 L404.05,285.95 L403.84,286.95 L403.64,287.94 L403.44,288.94 L403.25,289.93 L403.06,290.93 L402.88,291.93 L402.70,292.92 L402.52,293.92 L402.35,294.91 L402.19,295.91 L402.02,296.91 L401.87,297.90 L401.72,298.90 L401.57,299.90 L401.43,300.89 L401.29,301.89 L401.15,302.88 L401.03,303.88 L400.90,304.88 L400.78,305.87 L400.67,306.87 L400.56,307.86 L400.46,308.86 L400.36,309.86 L400.27,310.85 L400.18,311.85 L400.10,312.85 L400.02,313.84 L399.94,314.84 L399.88,315.83 L399.81,316.83 L399.76,317.83 L399.70,318.82 L399.66,319.82 L399.62,320.82 L399.58,321.81 L399.55,322.81 L399.53,323.80 L399.51,324.80 L391.49,324.80 L391.47,323.80 L391.45,322.81 L391.42,321.81 L391.38,320.82 L391.34,319.82 L391.30,318.82 L391.24,317.83 L391.19,316.83 L391.12,315.83 L391.06,314.84 L390.98,313.84 L390.90,312.85 L390.82,311.85 L390.73,310.85 L390.64,309.86 L390.54,308.86 L390.44,307.86 L390.33,306.87 L390.22,305.87 L390.10,304.88 L389.97,303.88 L389.85,302.88 L389.71,301.89 L389.57,300.89 L389.43,299.90 L389.28,298.90 L389.13,297.90 L388.98,296.91 L388.81,295.91 L388.65,294.91 L388.48,293.92 L388.30,292.92 L388.12,291.93 L387.94,290.93 L387.75,289.93 L387.56,288.94 L387.36,287.94 L387.16,286.95 L386.95,285.95 L386.74,284.95 L386.52,283.96 L386.30,282.96 L386.08,281.96 L385.85,280.97 L385.62,279.97 L385.39,278.98 L385.15,277.98 L384.90,276.98 L384.65,275.99 L384.40,274.99 L384.15,273.99 L383.89,273.00 L383.63,272.00 L383.36,271.01 L383.09,270.01 L382.82,269.01 L382.55,268.02 L382.27,267.02 L381.99,266.03 L381.71,265.03 L381.42,264.03 L381.14,263.04 L380.85,262.04 L380.56,261.04 L380.26,260.05 L379.97,259.05 L379.67,258.06 L379.38,257.06 L379.08,256.06 L378.78,255.07 L378.47,254.07 L378.17,253.08 L377.87,252.08 L377.56,251.08 L377.26,250.09 L376.95,249.09 L376.65,248.09 L376.34,247.10 L376.03,246.10 L375.73,245.11 L375.42,244.11 L375.12,243.11 L374.81,242.12 L374.50,241.12 L374.20,240.12 L373.89,239.13 L373.59,238.13 L373.29,237.14 L372.99,236.14 L372.70,235.14 L372.42,234.15 L372.15,233.15 L371.88,232.16 L371.63,231.16 L371.39,230.16 L371.17,229.17 L370.96,228.17 L370.77,227.17 L370.60,226.18 L370.46,225.18 L370.33,224.19 L370.24,223.19 L370.16,222.19 L370.12,221.20 L370.10,220.20 L370.12,219.21 L370.17,218.21 L370.25,217.21 L370.37,216.22 L370.53,215.22 L370.73,214.22 L370.96,213.23 L371.24,212.23 L371.56,211.24 L371.91,210.24 L372.30,209.24 L372.72,208.25 L373.18,207.25 L373.65,206.25 L374.15,205.26 L374.67,204.26 L375.20,203.27 L375.73,202.27 L376.27,201.27 L376.82,200.28 L377.36,199.28 L377.89,198.29 L378.41,197.29 L378.93,196.29 L379.43,195.30 L379.93,194.30 L380.42,193.30 L380.90,192.31 L381.37,191.31 L381.83,190.32 L382.27,189.32 L382.71,188.32 L383.14,187.33 L383.55,186.33 L383.95,185.34 L384.34,184.34 L384.72,183.34 L385.09,182.35 L385.44,181.35 L385.78,180.35 L386.11,179.36 L386.42,178.36 L386.72,177.37 L387.00,176.37 L387.27,175.37 L387.53,174.38 L387.77,173.38 L387.99,172.38 L388.20,171.39 L388.39,170.39 L388.56,169.40 L388.72,168.40Z" fill="#808080" stroke="#4a4a4a" stroke-width="1.0" stroke-linejoin="round"/>
<line x1="372.68" y1="235.75" x2="418.32" y2="235.75" stroke="#000" stroke-width="2.1"/>
<path d="M478.37,168.25 L478.84,169.25 L479.31,170.24 L479.79,171.24 L480.27,172.24 L480.76,173.23 L481.25,174.23 L481.74,175.23 L482.23,176.22 L482.71,177.22 L483.20,178.22 L483.69,179.22 L484.17,180.21 L484.65,181.21 L485.12,182.21 L485.59,183.20 L486.05,184.20 L486.51,185.20 L486.95,186.19 L487.39,187.19 L487.82,188.19 L488.24,189.18 L488.64,190.18 L489.04,191.18 L489.42,192.17 L489.79,193.17 L490.14,194.17 L490.48,195.17 L490.80,196.16 L491.11,197.16 L491.40,198.16 L491.67,199.15 L491.92,200.15 L492.16,201.15 L492.38,202.14 L492.59,203.14 L492.77,204.14 L492.95,205.13 L493.10,206.13 L493.24,207.13 L493.36,208.12 L493.47,209.12 L493.56,210.12 L493.64,211.11 L493.70,212.11 L493.74,213.11 L493.77,214.11 L493.78,215.10 L493.78,216.10 L493.76,217.10 L493.73,218.09 L493.68,219.09 L493.62,220.09 L493.55,221.08 L493.46,222.08 L493.36,223.08 L493.24,224.07 L493.12,225.07 L492.98,226.07 L492.83,227.06 L492.67,228.06 L492.50,229.06 L492.32,230.06 L492.13,231.05 L491.93,232.05 L491.72,233.05 L491.49,234.04 L491.27,235.04 L491.03,236.04 L490.78,237.03 L490.53,238.03 L490.27,239.03 L490.00,240.02 L489.72,241.02 L489.44,242.02 L489.15,243.01 L488.86,244.01 L488.56,245.01 L488.26,246.01 L487.95,247.00 L487.64,248.00 L487.32,249.00 L487.00,249.99 L486.67,250.99 L486.35,251.99 L486.02,252.98 L485.69,253.98 L485.35,254.98 L485.02,255.97 L484.68,256.97 L484.34,257.97 L484.00,258.96 L483.66,259.96 L483.32,260.96 L482.98,261.95 L482.65,262.95 L482.31,263.95 L481.97,264.95 L481.63,265.94 L481.30,266.94 L480.97,267.94 L480.63,268.93 L480.31,269.93 L479.98,270.93 L479.65,271.92 L479.33,272.92 L479.01,273.92 L478.70,274.91 L478.38,275.91 L478.07,276.91 L477.77,277.90 L477.47,278.90 L477.17,279.90 L476.88,280.90 L476.59,281.89 L476.30,282.89 L476.03,283.89 L475.75,284.88 L475.49,285.88 L475.22,286.88 L474.97,287.87 L474.72,288.87 L474.48,289.87 L474.24,290.86 L474.01,291.86 L473.79,292.86 L473.58,293.85 L473.37,294.85 L473.17,295.85 L472.98,296.84 L472.80,297.84 L472.62,298.84 L472.46,299.84 L472.30,300.83 L472.15,301.83 L472.01,302.83 L471.89,303.82 L471.77,304.82 L471.66,305.82 L471.56,306.81 L471.47,307.81 L471.38,308.81 L471.31,309.80 L471.24,310.80 L471.18,311.80 L471.12,312.79 L471.08,313.79 L471.04,314.79 L471.00,315.79 L470.97,316.78 L470.95,317.78 L470.93,318.78 L470.91,319.77 L470.90,320.77 L470.90,321.77 L470.89,322.76 L470.89,323.76 L470.90,324.76 L470.90,325.75 L470.91,326.75 L470.92,327.75 L470.93,328.74 L470.94,329.74 L470.96,330.74 L470.97,331.74 L470.99,332.73 L471.00,333.73 L471.01,334.73 L471.03,335.72 L471.04,336.72 L471.05,337.72 L471.06,338.71 L471.06,339.71 L471.07,340.71 L471.07,341.70 L471.07,342.70 L471.07,343.70 L471.07,344.69 L471.07,345.69 L471.06,346.69 L471.06,347.68 L471.05,348.68 L471.04,349.68 L471.04,350.68 L471.03,351.67 L471.02,352.67 L471.00,353.67 L470.99,354.66 L470.98,355.66 L470.97,356.66 L470.95,357.65 L470.94,358.65 L470.92,359.65 L470.91,360.64 L470.89,361.64 L470.88,362.64 L470.86,363.63 L470.85,364.63 L470.83,365.63 L470.81,366.63 L470.80,367.62 L470.78,368.62 L470.77,369.62 L470.76,370.61 L470.74,371.61 L470.73,372.61 L470.72,373.60 L470.70,374.60 L466.40,374.60 L466.38,373.60 L466.37,372.61 L466.36,371.61 L466.34,370.61 L466.33,369.62 L466.32,368.62 L466.30,367.62 L466.29,366.63 L466.27,365.63 L466.25,364.63 L466.24,363.63 L466.22,362.64 L466.21,361.64 L466.19,360.64 L466.18,359.65 L466.16,358.65 L466.15,357.65 L466.13,356.66 L466.12,355.66 L466.11,354.66 L466.10,353.67 L466.08,352.67 L466.07,351.67 L466.06,350.68 L466.06,349.68 L466.05,348.68 L466.04,347.68 L466.04,346.69 L466.03,345.69 L466.03,344.69 L466.03,343.70 L466.03,342.70 L466.03,341.70 L466.03,340.71 L466.04,339.71 L466.04,338.71 L466.05,337.72 L466.06,336.72 L466.07,335.72 L466.09,334.73 L466.10,333.73 L466.11,332.73 L466.13,331.74 L466.14,330.74 L466.16,329.74 L466.17,328.74 L466.18,327.75 L466.19,326.75 L466.20,325.75 L466.20,324.76 L466.21,323.76 L466.21,322.76 L466.20,321.77 L466.20,320.77 L466.19,319.77 L466.17,318.78 L466.15,317.78 L466.13,316.78 L466.10,315.79 L466.06,314.79 L466.02,313.79 L465.98,312.79 L465.92,311.80 L465.86,310.80 L465.79,309.80 L465.72,308.81 L465.63,307.81 L465.54,306.81 L465.44,305.82 L465.33,304.82 L465.21,303.82 L465.09,302.83 L464.95,301.83 L464.80,300.83 L464.64,299.84 L464.48,298.84 L464.30,297.84 L464.12,296.84 L463.93,295.85 L463.73,294.85 L463.52,293.85 L463.31,292.86 L463.09,291.86 L462.86,290.86 L462.62,289.87 L462.38,288.87 L462.13,287.87 L461.88,286.88 L461.61,285.88 L461.35,284.88 L461.07,283.89 L460.80,282.89 L460.51,281.89 L460.22,280.90 L459.93,279.90 L459.63,278.90 L459.33,277.90 L459.03,276.91 L458.72,275.91 L458.40,274.91 L458.09,273.92 L457.77,272.92 L457.45,271.92 L457.12,270.93 L456.79,269.93 L456.47,268.93 L456.13,267.94 L455.80,266.94 L455.47,265.94 L455.13,264.95 L454.79,263.95 L454.45,262.95 L454.12,261.95 L453.78,260.96 L453.44,259.96 L453.10,258.96 L452.76,257.97 L452.42,256.97 L452.08,255.97 L451.75,254.98 L451.41,253.98 L451.08,252.98 L450.75,251.99 L450.43,250.99 L450.10,249.99 L449.78,249.00 L449.46,248.00 L449.15,247.00 L448.84,246.01 L448.54,245.01 L448.24,244.01 L447.95,243.01 L447.66,242.02 L447.38,241.02 L447.10,240.02 L446.83,239.03 L446.57,238.03 L446.32,237.03 L446.07,236.04 L445.83,235.04 L445.61,234.04 L445.38,233.05 L445.17,232.05 L444.97,231.05 L444.78,230.06 L444.60,229.06 L444.43,228.06 L444.27,227.06 L444.12,226.07 L443.98,225.07 L443.86,224.07 L443.74,223.08 L443.64,222.08 L443.55,221.08 L443.48,220.09 L443.42,219.09 L443.37,218.09 L443.34,217.10 L443.32,216.10 L443.32,215.10 L443.33,214.11 L443.36,213.11 L443.40,212.11 L443.46,211.11 L443.54,210.12 L443.63,209.12 L443.74,208.12 L443.86,207.13 L444.00,206.13 L444.15,205.13 L444.33,204.14 L444.51,203.14 L444.72,202.14 L444.94,201.15 L445.18,200.15 L445.43,199.15 L445.70,198.16 L445.99,197.16 L446.30,196.16 L446.62,195.17 L446.96,194.17 L447.31,193.17 L447.68,192.17 L448.06,191.18 L448.46,190.18 L448.86,189.18 L449.28,188.19 L449.71,187.19 L450.15,186.19 L450.59,185.20 L451.05,184.20 L451.51,183.20 L451.98,182.21 L452.45,181.21 L452.93,180.21 L453.41,179.22 L453.90,178.22 L454.39,177.22 L454.87,176.22 L455.36,175.23 L455.85,174.23 L456.34,173.23 L456.83,172.24 L457.31,171.24 L457.79,170.24 L458.26,169.25 L458.73,168.25Z" fill="#cccccc" stroke="#4a4a4a" stroke-width="1.0" stroke-linejoin="round"/>
<line x1="445.28" y1="233.5" x2="491.82" y2="233.5" stroke="#000" stroke-width="2.1"/>
<path d="M532.67,125.55 L533.02,126.55 L533.37,127.55 L533.72,128.55 L534.08,129.55 L534.43,130.55 L534.78,131.55 L535.13,132.55 L535.48,133.55 L535.83,134.55 L536.18,135.55 L536.53,136.55 L536.87,137.55 L537.21,138.55 L537.55,139.55 L537.89,140.55 L538.22,141.55 L538.55,142.55 L538.88,143.55 L539.20,144.54 L539.52,145.54 L539.83,146.54 L540.14,147.54 L540.45,148.54 L540.74,149.54 L541.04,150.54 L541.33,151.54 L541.61,152.54 L541.88,153.54 L542.15,154.54 L542.42,155.54 L542.67,156.54 L542.92,157.54 L543.17,158.54 L543.40,159.54 L543.63,160.54 L543.85,161.54 L544.06,162.54 L544.27,163.54 L544.46,164.54 L544.65,165.54 L544.83,166.54 L545.00,167.54 L545.16,168.54 L545.31,169.54 L545.45,170.54 L545.58,171.54 L545.70,172.54 L545.82,173.54 L545.92,174.54 L546.02,175.54 L546.11,176.54 L546.19,177.54 L546.26,178.54 L546.33,179.54 L546.39,180.54 L546.43,181.53 L546.48,182.53 L546.51,183.53 L546.54,184.53 L546.56,185.53 L546.58,186.53 L546.58,187.53 L546.58,188.53 L546.58,189.53 L546.57,190.53 L546.55,191.53 L546.53,192.53 L546.50,193.53 L546.47,194.53 L546.43,195.53 L546.38,196.53 L546.33,197.53 L546.28,198.53 L546.22,199.53 L546.16,200.53 L546.09,201.53 L546.02,202.53 L545.94,203.53 L545.86,204.53 L545.78,205.53 L545.69,206.53 L545.60,207.53 L545.51,208.53 L545.41,209.53 L545.31,210.53 L545.21,211.53 L545.10,212.53 L545.00,213.53 L544.89,214.53 L544.77,215.53 L544.66,216.53 L544.54,217.53 L544.43,218.52 L544.31,219.52 L544.19,220.52 L544.06,221.52 L543.94,222.52 L543.81,223.52 L543.69,224.52 L543.56,225.52 L543.42,226.52 L543.29,227.52 L543.15,228.52 L543.02,229.52 L542.88,230.52 L542.74,231.52 L542.59,232.52 L542.45,233.52 L542.30,234.52 L542.15,235.52 L542.00,236.52 L541.85,237.52 L541.69,238.52 L541.54,239.52 L541.38,240.52 L541.22,241.52 L541.05,242.52 L540.89,243.52 L540.72,244.52 L540.55,245.52 L540.38,246.52 L540.21,247.52 L540.03,248.52 L539.85,249.52 L539.67,250.52 L539.49,251.52 L539.31,252.52 L539.12,253.52 L538.93,254.52 L538.74,255.51 L538.55,256.51 L538.35,257.51 L538.15,258.51 L537.95,259.51 L537.75,260.51 L537.54,261.51 L537.33,262.51 L537.13,263.51 L536.91,264.51 L536.70,265.51 L536.48,266.51 L536.26,267.51 L536.04,268.51 L535.82,269.51 L535.59,270.51 L535.36,271.51 L535.13,272.51 L534.90,273.51 L534.67,274.51 L534.44,275.51 L534.20,276.51 L533.97,277.51 L533.73,278.51 L533.49,279.51 L533.26,280.51 L533.02,281.51 L532.78,282.51 L532.54,283.51 L532.30,284.51 L532.06,285.51 L531.83,286.51 L531.59,287.51 L531.35,288.51 L531.11,289.51 L530.88,290.51 L530.64,291.51 L530.40,292.50 L530.17,293.50 L529.94,294.50 L529.71,295.50 L529.48,296.50 L529.25,297.50 L529.02,298.50 L528.80,299.50 L528.58,300.50 L528.36,301.50 L528.14,302.50 L527.92,303.50 L527.71,304.50 L527.50,305.50 L527.29,306.50 L527.09,307.50 L526.89,308.50 L526.69,309.50 L526.49,310.50 L516.41,310.50 L516.21,309.50 L516.01,308.50 L515.81,307.50 L515.61,306.50 L515.40,305.50 L515.19,304.50 L514.98,303.50 L514.76,302.50 L514.54,301.50 L514.32,300.50 L514.10,299.50 L513.88,298.50 L513.65,297.50 L513.42,296.50 L513.19,295.50 L512.96,294.50 L512.73,293.50 L512.50,292.50 L512.26,291.51 L512.02,290.51 L511.79,289.51 L511.55,288.51 L511.31,287.51 L511.07,286.51 L510.84,285.51 L510.60,284.51 L510.36,283.51 L510.12,282.51 L509.88,281.51 L509.64,280.51 L509.41,279.51 L509.17,278.51 L508.93,277.51 L508.70,276.51 L508.46,275.51 L508.23,274.51 L508.00,273.51 L507.77,272.51 L507.54,271.51 L507.31,270.51 L507.08,269.51 L506.86,268.51 L506.64,267.51 L506.42,266.51 L506.20,265.51 L505.99,264.51 L505.77,263.51 L505.57,262.51 L505.36,261.51 L505.15,260.51 L504.95,259.51 L504.75,258.51 L504.55,257.51 L504.35,256.51 L504.16,255.51 L503.97,254.52 L503.78,253.52 L503.59,252.52 L503.41,251.52 L503.23,250.52 L503.05,249.52 L502.87,248.52 L502.69,247.52 L502.52,246.52 L502.35,245.52 L502.18,244.52 L502.01,243.52 L501.85,242.52 L501.68,241.52 L501.52,240.52 L501.36,239.52 L501.21,238.52 L501.05,237.52 L500.90,236.52 L500.75,235.52 L500.60,234.52 L500.45,233.52 L500.31,232.52 L500.16,231.52 L500.02,230.52 L499.88,229.52 L499.75,228.52 L499.61,227.52 L499.48,226.52 L499.34,225.52 L499.21,224.52 L499.09,223.52 L498.96,222.52 L498.84,221.52 L498.71,220.52 L498.59,219.52 L498.47,218.52 L498.36,217.53 L498.24,216.53 L498.13,215.53 L498.01,214.53 L497.90,213.53 L497.80,212.53 L497.69,211.53 L497.59,210.53 L497.49,209.53 L497.39,208.53 L497.30,207.53 L497.21,206.53 L497.12,205.53 L497.04,204.53 L496.96,203.53 L496.88,202.53 L496.81,201.53 L496.74,200.53 L496.68,199.53 L496.62,198.53 L496.57,197.53 L496.52,196.53 L496.47,195.53 L496.43,194.53 L496.40,193.53 L496.37,192.53 L496.35,191.53 L496.33,190.53 L496.32,189.53 L496.32,188.53 L496.32,187.53 L496.32,186.53 L496.34,185.53 L496.36,184.53 L496.39,183.53 L496.42,182.53 L496.47,181.53 L496.51,180.54 L496.57,179.54 L496.64,178.54 L496.71,177.54 L496.79,176.54 L496.88,175.54 L496.98,174.54 L497.08,173.54 L497.20,172.54 L497.32,171.54 L497.45,170.54 L497.59,169.54 L497.74,168.54 L497.90,167.54 L498.07,166.54 L498.25,165.54 L498.44,164.54 L498.63,163.54 L498.84,162.54 L499.05,161.54 L499.27,160.54 L499.50,159.54 L499.73,158.54 L499.98,157.54 L500.23,156.54 L500.48,155.54 L500.75,154.54 L501.02,153.54 L501.29,152.54 L501.57,151.54 L501.86,150.54 L502.16,149.54 L502.45,148.54 L502.76,147.54 L503.07,146.54 L503.38,145.54 L503.70,144.54 L504.02,143.55 L504.35,142.55 L504.68,141.55 L505.01,140.55 L505.35,139.55 L505.69,138.55 L506.03,137.55 L506.37,136.55 L506.72,135.55 L507.07,134.55 L507.42,133.55 L507.77,132.55 L508.12,131.55 L508.47,130.55 L508.82,129.55 L509.18,128.55 L509.53,127.55 L509.88,126.55 L510.23,125.55Z" fill="#808080" stroke="#4a4a4a" stroke-width="1.0" stroke-linejoin="round"/>
<line x1="496.87" y1="204.95" x2="546.03" y2="204.95" stroke="#000" stroke-width="2.1"/>
<path d="M605.49,154.15 L605.94,155.15 L606.39,156.14 L606.84,157.14 L607.27,158.13 L607.70,159.13 L608.13,160.12 L608.54,161.12 L608.95,162.11 L609.35,163.11 L609.75,164.10 L610.14,165.10 L610.52,166.09 L610.89,167.09 L611.26,168.08 L611.62,169.08 L611.97,170.08 L612.31,171.07 L612.65,172.07 L612.98,173.06 L613.30,174.06 L613.62,175.05 L613.92,176.05 L614.22,177.04 L614.51,178.04 L614.80,179.03 L615.07,180.03 L615.34,181.02 L615.60,182.02 L615.85,183.01 L616.09,184.01 L616.33,185.01 L616.56,186.00 L616.77,187.00 L616.99,187.99 L617.19,188.99 L617.38,189.98 L617.57,190.98 L617.75,191.97 L617.91,192.97 L618.07,193.96 L618.23,194.96 L618.37,195.95 L618.50,196.95 L618.63,197.94 L618.75,198.94 L618.85,199.94 L618.95,200.93 L619.04,201.93 L619.13,202.92 L619.20,203.92 L619.26,204.91 L619.31,205.91 L619.36,206.90 L619.39,207.90 L619.42,208.89 L619.44,209.89 L619.45,210.88 L619.44,211.88 L619.43,212.87 L619.41,213.87 L619.38,214.87 L619.34,215.86 L619.29,216.86 L619.23,217.85 L619.16,218.85 L619.08,219.84 L619.00,220.84 L618.90,221.83 L618.79,222.83 L618.67,223.82 L618.54,224.82 L618.40,225.81 L618.25,226.81 L618.09,227.80 L617.92,228.80 L617.74,229.80 L617.55,230.79 L617.35,231.79 L617.15,232.78 L616.93,233.78 L616.70,234.77 L616.47,235.77 L616.23,236.76 L615.98,237.76 L615.73,238.75 L615.47,239.75 L615.21,240.74 L614.94,241.74 L614.66,242.73 L614.38,243.73 L614.10,244.73 L613.82,245.72 L613.53,246.72 L613.24,247.71 L612.95,248.71 L612.66,249.70 L612.36,250.70 L612.07,251.69 L611.77,252.69 L611.48,253.68 L611.19,254.68 L610.89,255.67 L610.60,256.67 L610.31,257.66 L610.03,258.66 L609.74,259.66 L609.46,260.65 L609.18,261.65 L608.90,262.64 L608.63,263.64 L608.35,264.63 L608.08,265.63 L607.82,266.62 L607.56,267.62 L607.30,268.61 L607.05,269.61 L606.80,270.60 L606.55,271.60 L606.31,272.59 L606.07,273.59 L605.84,274.59 L605.61,275.58 L605.38,276.58 L605.16,277.57 L604.94,278.57 L604.73,279.56 L604.52,280.56 L604.31,281.55 L604.11,282.55 L603.91,283.54 L603.72,284.54 L603.53,285.53 L603.34,286.53 L603.16,287.52 L602.98,288.52 L602.80,289.52 L602.63,290.51 L602.46,291.51 L602.30,292.50 L602.14,293.50 L601.99,294.49 L601.84,295.49 L601.69,296.48 L601.54,297.48 L601.40,298.47 L601.27,299.47 L601.14,300.46 L601.01,301.46 L600.88,302.45 L600.76,303.45 L587.84,303.45 L587.72,302.45 L587.59,301.46 L587.46,300.46 L587.33,299.47 L587.20,298.47 L587.06,297.48 L586.91,296.48 L586.76,295.49 L586.61,294.49 L586.46,293.50 L586.30,292.50 L586.14,291.51 L585.97,290.51 L585.80,289.52 L585.62,288.52 L585.44,287.52 L585.26,286.53 L585.07,285.53 L584.88,284.54 L584.69,283.54 L584.49,282.55 L584.29,281.55 L584.08,280.56 L583.87,279.56 L583.66,278.57 L583.44,277.57 L583.22,276.58 L582.99,275.58 L582.76,274.59 L582.53,273.59 L582.29,272.59 L582.05,271.60 L581.80,270.60 L581.55,269.61 L581.30,268.61 L581.04,267.62 L580.78,266.62 L580.52,265.63 L580.25,264.63 L579.97,263.64 L579.70,262.64 L579.42,261.65 L579.14,260.65 L578.86,259.66 L578.57,258.66 L578.29,257.66 L578.00,256.67 L577.71,255.67 L577.41,254.68 L577.12,253.68 L576.83,252.69 L576.53,251.69 L576.24,250.70 L575.94,249.70 L575.65,248.71 L575.36,247.71 L575.07,246.72 L574.78,245.72 L574.50,244.73 L574.22,243.73 L573.94,242.73 L573.66,241.74 L573.39,240.74 L573.13,239.75 L572.87,238.75 L572.62,237.76 L572.37,236.76 L572.13,235.77 L571.90,234.77 L571.67,233.78 L571.45,232.78 L571.25,231.79 L571.05,230.79 L570.86,229.80 L570.68,228.80 L570.51,227.80 L570.35,226.81 L570.20,225.81 L570.06,224.82 L569.93,223.82 L569.81,222.83 L569.70,221.83 L569.60,220.84 L569.52,219.84 L569.44,218.85 L569.37,217.85 L569.31,216.86 L569.26,215.86 L569.22,214.87 L569.19,213.87 L569.17,212.87 L569.16,211.88 L569.15,210.88 L569.16,209.89 L569.18,208.89 L569.21,207.90 L569.24,206.90 L569.29,205.91 L569.34,204.91 L569.40,203.92 L569.47,202.92 L569.56,201.93 L569.65,200.93 L569.75,199.94 L569.85,198.94 L569.97,197.94 L570.10,196.95 L570.23,195.95 L570.37,194.96 L570.53,193.96 L570.69,192.97 L570.85,191.97 L571.03,190.98 L571.22,189.98 L571.41,188.99 L571.61,187.99 L571.83,187.00 L572.04,186.00 L572.27,185.01 L572.51,184.01 L572.75,183.01 L573.00,182.02 L573.26,181.02 L573.53,180.03 L573.80,179.03 L574.09,178.04 L574.38,177.04 L574.68,176.05 L574.98,175.05 L575.30,174.06 L575.62,173.06 L575.95,172.07 L576.29,171.07 L576.63,170.08 L576.98,169.08 L577.34,168.08 L577.71,167.09 L578.08,166.09 L578.46,165.10 L578.85,164.10 L579.25,163.11 L579.65,162.11 L580.06,161.12 L580.47,160.12 L580.90,159.13 L581.33,158.13 L581.76,157.14 L582.21,156.14 L582.66,155.15 L583.11,154.15Z" fill="#cccccc" stroke="#4a4a4a" stroke-width="1.0" stroke-linejoin="round"/>
<line x1="569.38" y1="220.6" x2="619.22" y2="220.6" stroke="#000" stroke-width="2.1"/>
<path d="M652.91,76.00 L653.03,77.00 L653.13,77.99 L653.23,78.99 L653.33,79.99 L653.41,80.99 L653.50,81.98 L653.58,82.98 L653.65,83.98 L653.72,84.97 L653.79,85.97 L653.85,86.97 L653.91,87.97 L653.97,88.96 L654.03,89.96 L654.08,90.96 L654.13,91.96 L654.18,92.95 L654.22,93.95 L654.27,94.95 L654.31,95.94 L654.36,96.94 L654.40,97.94 L654.44,98.94 L654.49,99.93 L654.53,100.93 L654.57,101.93 L654.62,102.92 L654.67,103.92 L654.71,104.92 L654.76,105.92 L654.82,106.91 L654.87,107.91 L654.93,108.91 L654.99,109.90 L655.05,110.90 L655.12,111.90 L655.19,112.90 L655.27,113.89 L655.35,114.89 L655.43,115.89 L655.52,116.89 L655.61,117.88 L655.71,118.88 L655.82,119.88 L655.93,120.87 L656.05,121.87 L656.18,122.87 L656.31,123.87 L656.45,124.86 L656.60,125.86 L656.75,126.86 L656.91,127.85 L657.09,128.85 L657.26,129.85 L657.45,130.85 L657.64,131.84 L657.85,132.84 L658.05,133.84 L658.27,134.83 L658.49,135.83 L658.71,136.83 L658.95,137.83 L659.18,138.82 L659.43,139.82 L659.68,140.82 L659.93,141.81 L660.19,142.81 L660.45,143.81 L660.71,144.81 L660.98,145.80 L661.26,146.80 L661.53,147.80 L661.81,148.80 L662.10,149.79 L662.38,150.79 L662.67,151.79 L662.96,152.78 L663.25,153.78 L663.54,154.78 L663.84,155.78 L664.13,156.77 L664.43,157.77 L664.73,158.77 L665.02,159.76 L665.32,160.76 L665.62,161.76 L665.91,162.76 L666.21,163.75 L666.50,164.75 L666.79,165.75 L667.08,166.74 L667.36,167.74 L667.64,168.74 L667.92,169.74 L668.19,170.73 L668.46,171.73 L668.72,172.73 L668.98,173.73 L669.23,174.72 L669.47,175.72 L669.71,176.72 L669.93,177.71 L670.15,178.71 L670.37,179.71 L670.57,180.71 L670.76,181.70 L670.94,182.70 L671.12,183.70 L671.28,184.69 L671.43,185.69 L671.57,186.69 L671.70,187.69 L671.82,188.68 L671.93,189.68 L672.03,190.68 L672.12,191.67 L672.20,192.67 L672.27,193.67 L672.33,194.67 L672.37,195.66 L672.41,196.66 L672.44,197.66 L672.46,198.66 L672.47,199.65 L672.48,200.65 L672.47,201.65 L672.45,202.64 L672.42,203.64 L672.39,204.64 L672.35,205.64 L672.29,206.63 L672.23,207.63 L672.16,208.63 L672.08,209.62 L672.00,210.62 L671.90,211.62 L671.80,212.62 L671.69,213.61 L671.57,214.61 L671.45,215.61 L671.31,216.60 L671.17,217.60 L671.02,218.60 L670.87,219.60 L670.71,220.59 L670.53,221.59 L670.36,222.59 L670.17,223.59 L669.98,224.58 L669.78,225.58 L669.58,226.58 L669.37,227.57 L669.15,228.57 L668.93,229.57 L668.70,230.57 L668.46,231.56 L668.22,232.56 L667.97,233.56 L667.72,234.55 L667.46,235.55 L667.20,236.55 L666.93,237.55 L666.65,238.54 L666.37,239.54 L666.09,240.54 L665.80,241.53 L665.51,242.53 L665.22,243.53 L664.93,244.53 L664.63,245.52 L664.34,246.52 L664.05,247.52 L663.75,248.51 L663.46,249.51 L663.17,250.51 L662.88,251.51 L662.59,252.50 L662.31,253.50 L662.03,254.50 L661.76,255.50 L661.49,256.49 L661.22,257.49 L660.96,258.49 L660.70,259.48 L660.44,260.48 L660.19,261.48 L659.94,262.48 L659.69,263.47 L659.44,264.47 L659.19,265.47 L658.95,266.46 L658.70,267.46 L658.46,268.46 L658.21,269.46 L657.97,270.45 L657.72,271.45 L657.47,272.45 L657.23,273.44 L656.98,274.44 L656.73,275.44 L656.49,276.44 L656.24,277.43 L656.00,278.43 L655.76,279.43 L655.53,280.43 L655.30,281.42 L655.07,282.42 L654.85,283.42 L654.64,284.41 L654.43,285.41 L654.23,286.41 L654.04,287.41 L653.85,288.40 L653.68,289.40 L640.92,289.40 L640.75,288.40 L640.56,287.41 L640.37,286.41 L640.17,285.41 L639.96,284.41 L639.75,283.42 L639.53,282.42 L639.30,281.42 L639.07,280.43 L638.84,279.43 L638.60,278.43 L638.36,277.43 L638.11,276.44 L637.87,275.44 L637.62,274.44 L637.37,273.44 L637.13,272.45 L636.88,271.45 L636.63,270.45 L636.39,269.46 L636.14,268.46 L635.90,267.46 L635.65,266.46 L635.41,265.47 L635.16,264.47 L634.91,263.47 L634.66,262.48 L634.41,261.48 L634.16,260.48 L633.90,259.48 L633.64,258.49 L633.38,257.49 L633.11,256.49 L632.84,255.50 L632.57,254.50 L632.29,253.50 L632.01,252.50 L631.72,251.51 L631.43,250.51 L631.14,249.51 L630.85,248.51 L630.55,247.52 L630.26,246.52 L629.97,245.52 L629.67,244.53 L629.38,243.53 L629.09,242.53 L628.80,241.53 L628.51,240.54 L628.23,239.54 L627.95,238.54 L627.67,237.55 L627.40,236.55 L627.14,235.55 L626.88,234.55 L626.63,233.56 L626.38,232.56 L626.14,231.56 L625.90,230.57 L625.67,229.57 L625.45,228.57 L625.23,227.57 L625.02,226.58 L624.82,225.58 L624.62,224.58 L624.43,223.59 L624.24,222.59 L624.07,221.59 L623.89,220.59 L623.73,219.60 L623.58,218.60 L623.43,217.60 L623.29,216.60 L623.15,215.61 L623.03,214.61 L622.91,213.61 L622.80,212.62 L622.70,211.62 L622.60,210.62 L622.52,209.62 L622.44,208.63 L622.37,207.63 L622.31,206.63 L622.25,205.64 L622.21,204.64 L622.18,203.64 L622.15,202.64 L622.13,201.65 L622.12,200.65 L622.13,199.65 L622.14,198.66 L622.16,197.66 L622.19,196.66 L622.23,195.66 L622.27,194.67 L622.33,193.67 L622.40,192.67 L622.48,191.67 L622.57,190.68 L622.67,189.68 L622.78,188.68 L622.90,187.69 L623.03,186.69 L623.17,185.69 L623.32,184.69 L623.48,183.70 L623.66,182.70 L623.84,181.70 L624.03,180.71 L624.23,179.71 L624.45,178.71 L624.67,177.71 L624.89,176.72 L625.13,175.72 L625.37,174.72 L625.62,173.73 L625.88,172.73 L626.14,171.73 L626.41,170.73 L626.68,169.74 L626.96,168.74 L627.24,167.74 L627.52,166.74 L627.81,165.75 L628.10,164.75 L628.39,163.75 L628.69,162.76 L628.98,161.76 L629.28,160.76 L629.58,159.76 L629.87,158.77 L630.17,157.77 L630.47,156.77 L630.76,155.78 L631.06,154.78 L631.35,153.78 L631.64,152.78 L631.93,151.79 L632.22,150.79 L632.50,149.79 L632.79,148.80 L633.07,147.80 L633.34,146.80 L633.62,145.80 L633.89,144.81 L634.15,143.81 L634.41,142.81 L634.67,141.81 L634.92,140.82 L635.17,139.82 L635.42,138.82 L635.65,137.83 L635.89,136.83 L636.11,135.83 L636.33,134.83 L636.55,133.84 L636.75,132.84 L636.96,131.84 L637.15,130.85 L637.34,129.85 L637.51,128.85 L637.69,127.85 L637.85,126.86 L638.00,125.86 L638.15,124.86 L638.29,123.87 L638.42,122.87 L638.55,121.87 L638.67,120.87 L638.78,119.88 L638.89,118.88 L638.99,117.88 L639.08,116.89 L639.17,115.89 L639.25,114.89 L639.33,113.89 L639.41,112.90 L639.48,111.90 L639.55,110.90 L639.61,109.90 L639.67,108.91 L639.73,107.91 L639.78,106.91 L639.84,105.92 L639.89,104.92 L639.93,103.92 L639.98,102.92 L640.03,101.93 L640.07,100.93 L640.11,99.93 L640.16,98.94 L640.20,97.94 L640.24,96.94 L640.29,95.94 L640.33,94.95 L640.38,93.95 L640.42,92.95 L640.47,91.96 L640.52,90.96 L640.57,89.96 L640.63,88.96 L640.69,87.97 L640.75,86.97 L640.81,85.97 L640.88,84.97 L640.95,83.98 L641.02,82.98 L641.10,81.98 L641.19,80.99 L641.27,79.99 L641.37,78.99 L641.47,77.99 L641.57,77.00 L641.69,76.00Z" fill="#808080" stroke="#4a4a4a" stroke-width="1.0" stroke-linejoin="round"/>
<line x1="622.25" y1="192.0" x2="672.35" y2="192.0" stroke="#000" stroke-width="2.1"/>
<rect x="211.7" y="102.3" width="62.90" height="3.50" fill="#000"/>
<g fill="#000"><path d="M248.60,98.40L248.60,94.95M248.60,98.40L248.60,101.85M248.60,98.40L251.46,96.75M248.60,98.40L245.74,96.75M248.60,98.40L245.74,100.05M248.60,98.40L251.46,100.05" stroke="#000" stroke-width="1.1" stroke-linecap="round" fill="none"/><circle cx="248.60" cy="94.95" r="0.82"/><circle cx="248.60" cy="101.85" r="0.82"/><circle cx="251.46" cy="96.75" r="0.82"/><circle cx="245.74" cy="96.75" r="0.82"/><circle cx="245.74" cy="100.05" r="0.82"/><circle cx="251.46" cy="100.05" r="0.82"/><circle cx="248.6" cy="98.4" r="0.95"/></g>
<rect x="463.35" y="88.15" width="63.15" height="3.45" fill="#000"/>
<g fill="#000"><path d="M500.00,84.40L500.00,80.95M500.00,84.40L500.00,87.85M500.00,84.40L502.86,82.75M500.00,84.40L497.14,82.75M500.00,84.40L497.14,86.05M500.00,84.40L502.86,86.05" stroke="#000" stroke-width="1.1" stroke-linecap="round" fill="none"/><circle cx="500.00" cy="80.95" r="0.82"/><circle cx="500.00" cy="87.85" r="0.82"/><circle cx="502.86" cy="82.75" r="0.82"/><circle cx="497.14" cy="82.75" r="0.82"/><circle cx="497.14" cy="86.05" r="0.82"/><circle cx="502.86" cy="86.05" r="0.82"/><circle cx="500.0" cy="84.4" r="0.95"/></g>
<rect x="589.25" y="38.1" width="62.95" height="3.50" fill="#000"/>
<g fill="#000"><path d="M626.40,33.95L626.40,30.50M626.40,33.95L626.40,37.40M626.40,33.95L629.26,32.30M626.40,33.95L623.54,32.30M626.40,33.95L623.54,35.60M626.40,33.95L629.26,35.60" stroke="#000" stroke-width="1.1" stroke-linecap="round" fill="none"/><circle cx="626.40" cy="30.50" r="0.82"/><circle cx="626.40" cy="37.40" r="0.82"/><circle cx="629.26" cy="32.30" r="0.82"/><circle cx="623.54" cy="32.30" r="0.82"/><circle cx="623.54" cy="35.60" r="0.82"/><circle cx="629.26" cy="35.60" r="0.82"/><circle cx="626.4" cy="33.95" r="0.95"/></g>
</svg>
</body></html>
